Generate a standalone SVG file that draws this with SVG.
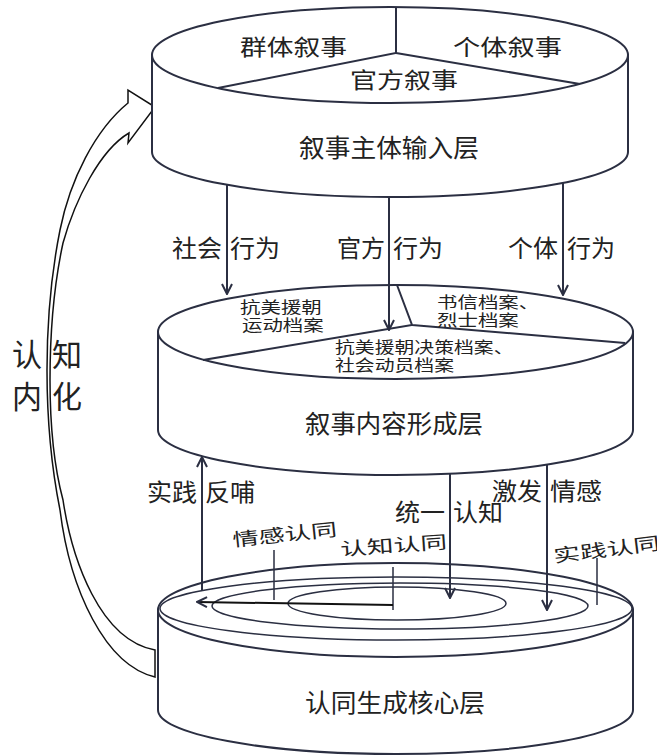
<svg xmlns="http://www.w3.org/2000/svg" width="657" height="756" viewBox="0 0 657 756">
<defs>
<style>
.ln{fill:none;stroke:#2b2f42;stroke-width:2}
.body{fill:#fff;stroke:#2b2f42;stroke-width:2}
.thin{fill:none;stroke:#2b2f42;stroke-width:1.5}
text{font-family:"Noto Sans CJK SC","Noto Sans",sans-serif;fill:#222;dominant-baseline:central}
.t22{font-size:22px}
.t25{font-size:25px}
.t24{font-size:24px}
.t16{font-size:15.5px;font-family:"Liberation Sans","Noto Sans CJK SC",sans-serif}
.t18{font-size:18px}
.t31{font-size:31px}
</style>
<marker id="ah" viewBox="0 0 12 12" refX="11" refY="6" markerWidth="12" markerHeight="12" orient="auto" markerUnits="userSpaceOnUse">
<path d="M1,1 L11,6 L1,11" fill="none" stroke="#2b2f42" stroke-width="2"/>
</marker>
</defs>
<rect width="657" height="756" fill="#fff"/>

<g id="internalize">
<path d="M155,650 L155,677 C105,665 70,590 60,510 C52,470 47,420 47,370 C47,320 52,270 60,230 C70,180 95,130 128,103 L128,90 L155,107 L128,143 L129,133 C100,150 75,200 63,243 C55,280 50,330 50,380 C50,430 55,470 63,500 C72,560 100,640 155,650 Z" fill="#fff" stroke="#111" stroke-width="1.5"/>
<text class="t31" x="12" y="352" textLength="30" lengthAdjust="spacingAndGlyphs">认</text>
<text class="t31" x="52" y="352" textLength="30" lengthAdjust="spacingAndGlyphs">知</text>
<text class="t31" x="12" y="394" textLength="30" lengthAdjust="spacingAndGlyphs">内</text>
<text class="t31" x="52" y="394" textLength="30" lengthAdjust="spacingAndGlyphs">化</text>
</g>

<g id="layer-input">
<path class="body" d="M152,55 L152,152 A238,45 0 0 0 628,152 L628,55 Z"/>
<ellipse class="body" cx="390" cy="55" rx="238" ry="48"/>
<path class="ln" d="M396,7 L396,53 L218,88 M396,53 L580,84"/>
<text class="t22" x="240" y="45" textLength="107" lengthAdjust="spacingAndGlyphs">群体叙事</text>
<text class="t22" x="453" y="45" textLength="109" lengthAdjust="spacingAndGlyphs">个体叙事</text>
<text class="t22" x="350" y="78" textLength="108" lengthAdjust="spacingAndGlyphs">官方叙事</text>
<text class="t25" x="299" y="146" textLength="180" lengthAdjust="spacingAndGlyphs">叙事主体输入层</text>
</g>

<g id="layer-content">
<path class="body" d="M158,332 L158,430 A237.5,45 0 0 0 633,430 L633,332 Z"/>
<ellipse class="body" cx="395.5" cy="332" rx="237.5" ry="47"/>
<path class="ln" d="M397,285 L412,325 L203,360 M412,325 L625,343"/>
<text class="t16" transform="translate(240 308) scale(1.32 1)"><tspan x="0" y="0">抗美援朝</tspan><tspan x="1.5" y="18">运动档案</tspan></text>
<text class="t16" transform="translate(437 303) scale(1.32 1)"><tspan x="0" y="0">书信档案、</tspan><tspan x="0" y="18">烈士档案</tspan></text>
<text class="t16" transform="translate(335 348) scale(1.28 1)"><tspan x="0" y="0">抗美援朝决策档案、</tspan><tspan x="0" y="18">社会动员档案</tspan></text>
<text class="t25" x="305" y="422" textLength="178" lengthAdjust="spacingAndGlyphs">叙事内容形成层</text>
</g>

<g id="layer-core">
<path class="body" d="M158,610 L158,710 A237.5,44 0 0 0 633,710 L633,610 Z"/>
<ellipse class="body" cx="395.5" cy="610" rx="237.5" ry="47"/>
<ellipse class="thin" cx="396" cy="608.5" rx="236" ry="31.5"/>
<ellipse class="thin" cx="400" cy="606" rx="188" ry="23"/>
<ellipse class="thin" cx="397" cy="603.5" rx="109" ry="16.5"/>
<path class="thin" d="M274,550 L274,600 M393,567 L393,610 M597,558 L597,605"/>
<text class="t18" x="232" y="533" textLength="105" lengthAdjust="spacingAndGlyphs" transform="rotate(-6 285 533)">情感认同</text>
<text class="t18" x="340" y="544" textLength="107" lengthAdjust="spacingAndGlyphs" transform="rotate(-4 393 544)">认知认同</text>
<text class="t18" x="553" y="548" textLength="107" lengthAdjust="spacingAndGlyphs" transform="rotate(-7 606 548)">实践认同</text>
<text class="t25" x="305" y="701" textLength="180" lengthAdjust="spacingAndGlyphs">认同生成核心层</text>
</g>

<g id="connectors">
<line class="ln" x1="227" y1="185" x2="227" y2="294" marker-end="url(#ah)"/>
<line class="ln" x1="389" y1="197" x2="389" y2="330" marker-end="url(#ah)"/>
<line class="ln" x1="563" y1="183" x2="563" y2="295" marker-end="url(#ah)"/>
<line class="ln" x1="202" y1="590" x2="202" y2="457" marker-end="url(#ah)"/>
<line class="ln" x1="450" y1="474" x2="450" y2="598" marker-end="url(#ah)"/>
<line class="ln" x1="547" y1="465" x2="547" y2="610" marker-end="url(#ah)"/>
<line x1="393" y1="605" x2="197" y2="602" stroke="#111" stroke-width="2" marker-end="url(#ah)"/>
<text class="t24" x="172" y="246" textLength="50" lengthAdjust="spacingAndGlyphs">社会</text>
<text class="t24" x="230" y="246" textLength="50" lengthAdjust="spacingAndGlyphs">行为</text>
<text class="t24" x="337" y="246" textLength="48" lengthAdjust="spacingAndGlyphs">官方</text>
<text class="t24" x="393" y="246" textLength="50" lengthAdjust="spacingAndGlyphs">行为</text>
<text class="t24" x="508" y="246" textLength="50" lengthAdjust="spacingAndGlyphs">个体</text>
<text class="t24" x="567" y="246" textLength="48" lengthAdjust="spacingAndGlyphs">行为</text>
<text class="t24" x="147" y="490" textLength="50" lengthAdjust="spacingAndGlyphs">实践</text>
<text class="t24" x="205" y="490" textLength="50" lengthAdjust="spacingAndGlyphs">反哺</text>
<text class="t24" x="395" y="510" textLength="50" lengthAdjust="spacingAndGlyphs">统一</text>
<text class="t24" x="453" y="510" textLength="50" lengthAdjust="spacingAndGlyphs">认知</text>
<text class="t24" x="492" y="489" textLength="50" lengthAdjust="spacingAndGlyphs">激发</text>
<text class="t24" x="550" y="489" textLength="52" lengthAdjust="spacingAndGlyphs">情感</text>
</g>
</svg>
